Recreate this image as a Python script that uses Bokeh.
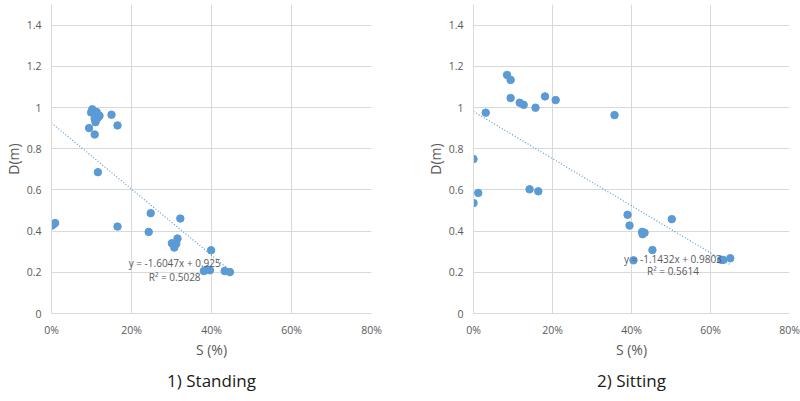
from bokeh.plotting import figure
from bokeh.layouts import row
from bokeh.models import Range1d, NumeralTickFormatter, FixedTicker, Label, Title
from bokeh.embed import file_html
from bokeh.resources import INLINE

# ---- data (S as fraction, D in metres) ----
stand_s = [0.000, 0.005, 0.009, 0.094, 0.099, 0.102, 0.106, 0.108, 0.108, 0.110,
           0.113, 0.116, 0.116, 0.120, 0.150, 0.165, 0.165, 0.243, 0.248, 0.301,
           0.307, 0.312, 0.315, 0.322, 0.381, 0.389, 0.396, 0.399, 0.433, 0.446]
stand_d = [0.426, 0.433, 0.439, 0.900, 0.976, 0.991, 0.981, 0.869, 0.945, 0.929,
           0.978, 0.950, 0.686, 0.960, 0.965, 0.913, 0.422, 0.396, 0.487, 0.341,
           0.320, 0.339, 0.364, 0.461, 0.206, 0.214, 0.210, 0.307, 0.206, 0.201]
stand_slope, stand_intercept = -1.6047, 0.925
stand_eq = "y = -1.6047x + 0.925"
stand_r2 = "R\u00b2 = 0.5028"

sit_s = [0.000, 0.000, 0.012, 0.031, 0.085, 0.094, 0.094, 0.117, 0.127, 0.142,
         0.157, 0.164, 0.181, 0.208, 0.357, 0.390, 0.395, 0.405, 0.427, 0.428,
         0.433, 0.453, 0.502, 0.627, 0.632, 0.650]
sit_d = [0.750, 0.536, 0.585, 0.975, 1.158, 1.134, 1.046, 1.023, 1.013, 0.603,
         0.999, 0.593, 1.054, 1.036, 0.963, 0.479, 0.427, 0.258, 0.396, 0.385,
         0.392, 0.308, 0.458, 0.261, 0.260, 0.268]
sit_slope, sit_intercept = -1.1432, 0.9803
sit_eq = "y = -1.1432x + 0.9803"
sit_r2 = "R\u00b2 = 0.5614"

x_ticks = [0, 0.2, 0.4, 0.6, 0.8]
y_ticks = [0, 0.2, 0.4, 0.6, 0.8, 1.0, 1.2, 1.4]

FONT = "Open Sans"
TXT = "#595959"
GRID = "#d9d9d9"
BLUE = "#5b9bd5"


def make(s, d, slope, intercept, eq, r2, eq_x, eq_y, r2_y, title, title_off, bl, br):
    p = figure(width=400, height=401, output_backend="svg", toolbar_location=None,
               x_range=Range1d(0, 0.8), y_range=Range1d(0, 1.5),
               min_border_left=bl, min_border_right=br, min_border_top=4,
               min_border_bottom=88)
    p.outline_line_color = None
    p.background_fill_color = "white"
    p.border_fill_color = "white"

    for ax in (p.xaxis[0], p.yaxis[0]):
        ax.axis_line_color = GRID
        ax.major_tick_line_color = None
        ax.minor_tick_line_color = None
        ax.major_tick_out = 0
        ax.major_tick_in = 0
        ax.minor_tick_out = 0
        ax.major_label_text_font = FONT
        ax.major_label_text_font_size = "10.5px"
        ax.major_label_text_color = TXT
        ax.axis_label_text_font = FONT
        ax.axis_label_text_font_size = "14px"
        ax.axis_label_text_font_style = "normal"
        ax.axis_label_text_color = TXT

    p.xaxis.ticker = FixedTicker(ticks=x_ticks)
    p.yaxis.ticker = FixedTicker(ticks=y_ticks)
    p.xaxis.formatter = NumeralTickFormatter(format="0%")
    p.yaxis.formatter = NumeralTickFormatter(format="0.[0]")
    p.xaxis.axis_label = "S (%)"
    p.yaxis.axis_label = "D(m)"
    p.xaxis.major_label_standoff = 9
    p.yaxis.major_label_standoff = 10
    p.xaxis.axis_label_standoff = 0
    p.yaxis.axis_label_standoff = 1

    p.xgrid.ticker = FixedTicker(ticks=x_ticks)
    p.ygrid.ticker = FixedTicker(ticks=y_ticks)
    p.xgrid.grid_line_color = GRID
    p.ygrid.grid_line_color = GRID

    xs = [min(s), max(s)]
    ys = [slope * v + intercept for v in xs]
    p.line(xs, ys, line_color=BLUE, line_width=1.2, line_dash="1 2")

    p.scatter(s, d, size=7.5, fill_color=BLUE, line_color=BLUE)

    p.add_layout(Label(x=eq_x, y=eq_y, text=eq, text_align="center", text_baseline="middle",
                       text_font=FONT, text_font_size="10px", text_color=TXT))
    p.add_layout(Label(x=eq_x, y=r2_y, text=r2, text_align="center", text_baseline="middle",
                       text_font=FONT, text_font_size="10px", text_color=TXT))

    p.add_layout(Title(text=title, align="center", vertical_align="top", standoff=15,
                       offset=title_off, text_font=FONT, text_font_size="17px",
                       text_font_style="normal", text_color="#1a1a1a"), "below")
    return p


p1 = make(stand_s, stand_d, stand_slope, stand_intercept, stand_eq, stand_r2,
          0.308, 0.245, 0.177, "1) Standing", -3, 49, 29)
p2 = make(sit_s, sit_d, sit_slope, sit_intercept, sit_eq, sit_r2,
          0.505, 0.263, 0.205, "2) Sitting", -6, 73, 11)

p = row(p1, p2)
open("out.html", "w").write(file_html(p, INLINE))
